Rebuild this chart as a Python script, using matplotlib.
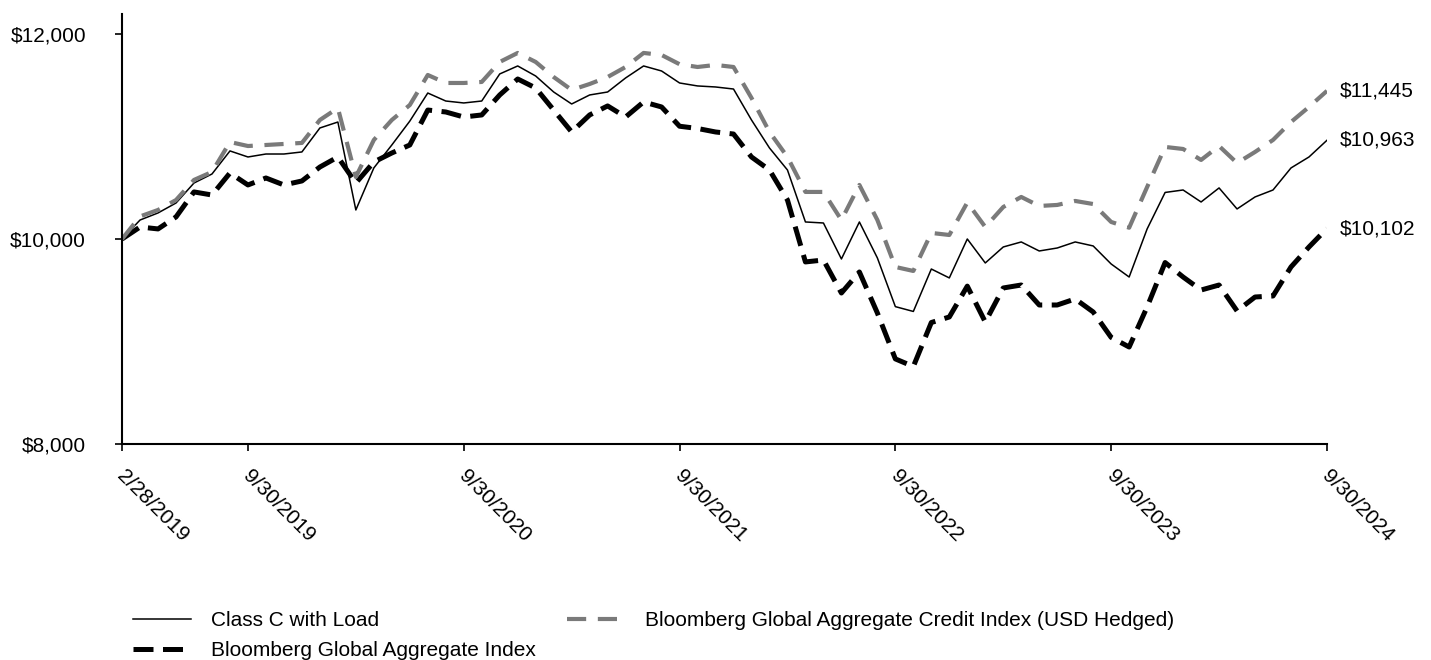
import matplotlib.pyplot as plt

plt.rcParams['font.family'] = ['Liberation Sans', 'DejaVu Sans']

class_c = [10000, 10185, 10254, 10351, 10546, 10634, 10859, 10800, 10829, 10829,
           10849, 11083, 11141, 10283, 10693, 10917, 11150, 11424, 11346, 11327,
           11346, 11610, 11688, 11590, 11434, 11317, 11405, 11434, 11571, 11688,
           11639, 11522, 11493, 11483, 11463, 11161, 10888, 10673, 10166, 10156,
           9805, 10166, 9815, 9340, 9293, 9707, 9620, 10000, 9766, 9922,
           9971, 9883, 9912, 9971, 9932, 9756, 9629, 10098, 10454, 10478,
           10361, 10498, 10293, 10410, 10478, 10693, 10800, 10963]

global_agg = [10000, 10117, 10098, 10215, 10459, 10429, 10644, 10527, 10595, 10527,
              10566, 10702, 10800, 10546, 10751, 10839, 10917, 11258, 11239, 11190,
              11210, 11405, 11561, 11473, 11258, 11044, 11210, 11298, 11190, 11337,
              11288, 11100, 11078, 11044, 11024, 10800, 10673, 10380, 9776, 9795,
              9473, 9678, 9278, 8830, 8756, 9185, 9239, 9540, 9190, 9522,
              9551, 9356, 9356, 9415, 9288, 9040, 8946, 9337, 9770, 9629,
              9502, 9551, 9298, 9434, 9444, 9727, 9922, 10102]

credit = [10000, 10220, 10283, 10380, 10576, 10654, 10946, 10907, 10917, 10927,
          10937, 11161, 11278, 10605, 10966, 11161, 11307, 11600, 11522, 11522,
          11532, 11727, 11815, 11727, 11580, 11454, 11512, 11580, 11678, 11815,
          11795, 11705, 11678, 11698, 11678, 11376, 11044, 10800, 10459, 10459,
          10185, 10527, 10185, 9727, 9688, 10059, 10039, 10356, 10117, 10312,
          10410, 10322, 10332, 10371, 10341, 10166, 10110, 10507, 10898, 10878,
          10771, 10907, 10741, 10849, 10966, 11141, 11288, 11445]

tick_pos = [0, 7, 19, 31, 43, 55, 67]
tick_labels = ['2/28/2019', '9/30/2019', '9/30/2020', '9/30/2021',
               '9/30/2022', '9/30/2023', '9/30/2024']
y_ticks = [8000, 10000, 12000]
y_labels = ['$8,000', '$10,000', '$12,000']

x = list(range(len(class_c)))

fig = plt.figure(figsize=(14.31, 6.6), dpi=100)
ax = fig.add_axes([0.0853, 0.3273, 0.842, 0.6515])

ax.plot(x, class_c, color='black', linewidth=1.1, label='Class C with Load')
ax.plot(x, global_agg, color='black', linewidth=3.6, dashes=(4.0, 1.9),
        label='Bloomberg Global Aggregate Index')
ax.plot(x, credit, color='#7a7a7a', linewidth=3.0, dashes=(4.6, 2.8),
        label='Bloomberg Global Aggregate Credit Index (USD Hedged)')

for series in (credit, class_c, global_agg):
    v = series[-1]
    ax.annotate(f'${v:,}', xy=(x[-1], v), xytext=(9, 0), textcoords='offset points',
                va='center', ha='left', fontsize=15, annotation_clip=False)

ax.set_xlim(0, 67)
ax.set_ylim(8000, 12195)
ax.set_xticks(tick_pos)
ax.set_xticklabels([])
# rotated date labels, placed by hand so they can be nudged
for pos, lbl in zip(tick_pos, tick_labels):
    ax.annotate(lbl, xy=(pos, 0), xycoords=('data', 'axes fraction'),
                xytext=(3.6, -15.8), textcoords='offset points',
                rotation=-45, rotation_mode='anchor', ha='left', va='top',
                fontsize=15, annotation_clip=False)
ax.set_yticks(y_ticks)
ax.set_yticklabels(y_labels, fontsize=15)
ax.tick_params(axis='both', direction='out', length=5, width=1.2, color='black')
ax.tick_params(axis='y', pad=21)
ax.spines['top'].set_visible(False)
ax.spines['right'].set_visible(False)
ax.spines['left'].set_linewidth(1.5)
ax.spines['bottom'].set_linewidth(1.5)

fig.legend(loc='upper left', bbox_to_anchor=(133 / 1431, 1 - 611 / 660), ncol=2,
           frameon=False, fontsize=15, borderpad=0, borderaxespad=0,
           handlelength=2.8, handletextpad=0.95, columnspacing=1.5, labelspacing=0.55)

fig.savefig('out.png', dpi=100)
